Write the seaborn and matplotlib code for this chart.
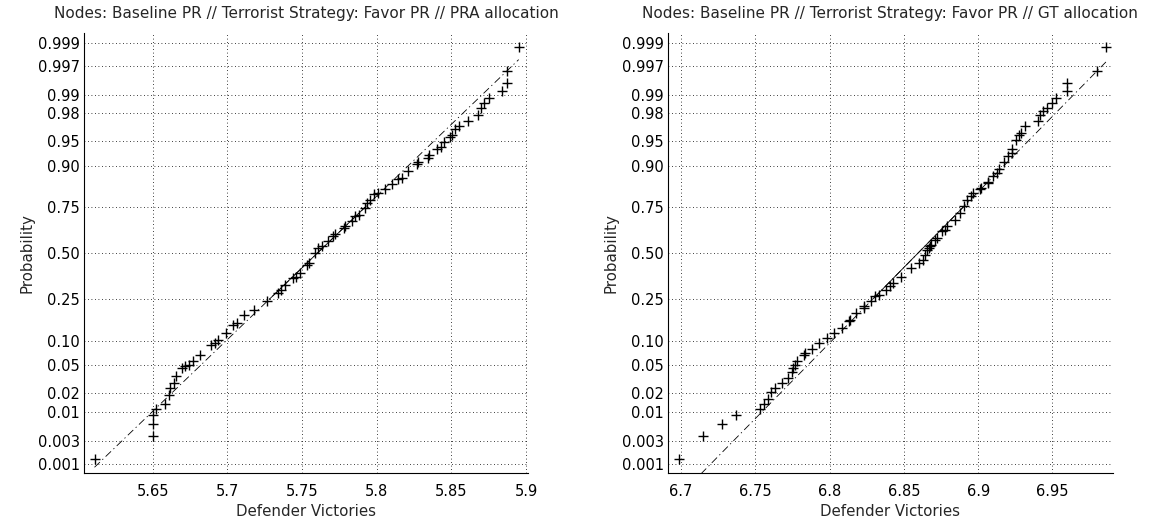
import numpy as np
import pandas as pd
import matplotlib
matplotlib.use("Agg")
import matplotlib.pyplot as plt
import seaborn as sns
from statistics import NormalDist

# Sample size of each simulation run (plotting positions use (i - 0.5) / n)
n_runs = 400

# PRA allocation: sorted defender victories at selected ranks
pra_rank = [1, 2, 3, 4, 5, 6, 8, 10, 12, 15, 19, 20, 21, 23, 28, 36, 38, 41,
            49, 59, 62, 74, 82, 97, 112, 119, 129, 144, 147, 155, 174, 178,
            201, 213, 217, 228, 240, 244, 259, 262, 273, 283, 286, 299, 309,
            314, 323, 325, 331, 338, 345, 347, 355, 362, 364, 368, 371, 375,
            377, 380, 383, 384, 387, 388, 390, 392, 394, 395, 396, 397, 398,
            399, 400]
pra_value = [5.611, 5.650, 5.650, 5.650, 5.652, 5.658, 5.6606, 5.6618, 5.6642,
             5.6655, 5.6693, 5.6717, 5.6742, 5.6767, 5.6816, 5.6891, 5.6915,
             5.694, 5.699, 5.7039, 5.7064, 5.7113, 5.7175, 5.7263, 5.7337,
             5.7362, 5.7386, 5.7436, 5.7461, 5.7485, 5.7535, 5.7545, 5.7585,
             5.7609, 5.7634, 5.7671, 5.7708, 5.7721, 5.7783, 5.779, 5.7833,
             5.7857, 5.7882, 5.7919, 5.7932, 5.7956, 5.7981, 5.8006, 5.8055,
             5.8105, 5.8142, 5.8167, 5.821, 5.827, 5.8278, 5.8341, 5.8352,
             5.8402, 5.8427, 5.8452, 5.849, 5.8502, 5.8526, 5.855, 5.8613,
             5.8675, 5.870, 5.872, 5.875, 5.884, 5.887, 5.887, 5.895]

# GT allocation: sorted defender victories at selected ranks
gt_rank = [1, 2, 3, 4, 5, 6, 7, 9, 10, 12, 14, 17, 19, 21, 23, 28, 29, 33, 38,
           43, 49, 55, 64, 66, 77, 85, 88, 97, 106, 109, 119, 126, 133, 147,
           166, 178, 186, 197, 209, 213, 217, 221, 232, 236, 251, 255, 262,
           276, 290, 303, 314, 320, 325, 331, 333, 340, 342, 349, 353, 357,
           364, 370, 372, 375, 381, 384, 385, 388, 390, 392, 393, 394, 395,
           396, 397, 398, 399, 400]
gt_value = [6.6989, 6.7147, 6.7276, 6.7371, 6.7533, 6.7558, 6.7583, 6.7607,
            6.7632, 6.7682, 6.772, 6.7745, 6.7757, 6.777, 6.7782, 6.7831,
            6.7835, 6.7881, 6.7931, 6.7981, 6.8031, 6.8081, 6.8131, 6.8135,
            6.8181, 6.823, 6.8235, 6.828, 6.8305, 6.833, 6.838, 6.8405, 6.843,
            6.8479, 6.8548, 6.8604, 6.8629, 6.8641, 6.8655, 6.867, 6.8679,
            6.8685, 6.871, 6.872, 6.8754, 6.8779, 6.8791, 6.8841, 6.8878,
            6.8903, 6.8928, 6.8953, 6.8965, 6.9015, 6.902, 6.9065, 6.9068,
            6.9102, 6.9127, 6.914, 6.9177, 6.9202, 6.9227, 6.923, 6.9252,
            6.9277, 6.9289, 6.9314, 6.940, 6.9414, 6.9438, 6.9463, 6.950,
            6.9526, 6.9596, 6.9596, 6.980, 6.986]

prob_ticks = [0.001, 0.003, 0.01, 0.02, 0.05, 0.10, 0.25, 0.50, 0.75, 0.90,
              0.95, 0.98, 0.99, 0.997, 0.999]
prob_labels = ["0.001", "0.003", "0.01", "0.02", "0.05", "0.10", "0.25",
               "0.50", "0.75", "0.90", "0.95", "0.98", "0.99", "0.997", "0.999"]

pra_xticks = [5.65, 5.7, 5.75, 5.8, 5.85, 5.9]
gt_xticks = [6.7, 6.75, 6.8, 6.85, 6.9, 6.95]

titles = ["Nodes: Baseline PR // Terrorist Strategy: Favor PR // PRA allocation",
          "Nodes: Baseline PR // Terrorist Strategy: Favor PR // GT allocation"]

sns.set_style("white")
plt.rcParams["font.family"] = ["DejaVu Sans"]

nd = NormalDist()
z_lim = -nd.inv_cdf(0.25 / n_runs)


def norm_probplot(ax, ranks, values, xlim, xticks, title):
    ranks = np.asarray(ranks, dtype=float)
    values = np.asarray(values, dtype=float)
    probs = (ranks - 0.5) / n_runs
    z = np.array([nd.inv_cdf(p) for p in probs])
    df = pd.DataFrame({"value": values, "z": z})

    # Reference line through the first and third quartiles
    q1, q3 = np.interp([0.25, 0.75], probs, values)
    z1, z3 = nd.inv_cdf(0.25), nd.inv_cdf(0.75)
    slope = (z3 - z1) / (q3 - q1)
    x_ends = np.array([values.min(), values.max()])
    z_ends = z1 + slope * (x_ends - q1)
    ax.plot(x_ends, z_ends, color="black", lw=0.6,
            linestyle=(0, (9, 4, 1.5, 4)), zorder=2)
    ax.plot([q1, q3], [z1, z3], color="black", lw=0.6, zorder=2)

    sns.scatterplot(data=df, x="value", y="z", ax=ax, marker="+", s=45,
                    color="black", linewidth=1.0, zorder=3, legend=False)

    ax.set_xlim(*xlim)
    ax.set_ylim(-z_lim, z_lim)
    ax.set_yticks([nd.inv_cdf(p) for p in prob_ticks])
    ax.set_yticklabels(prob_labels)
    ax.set_xticks(xticks)
    ax.set_xticklabels([f"{t:g}" for t in xticks])
    ax.grid(True, color="black", linestyle=(0, (1, 3.2)), lw=0.6)
    ax.tick_params(direction="in", length=3, width=0.6, labelsize=10.5,
                   colors="black")
    ax.tick_params(axis="x", pad=7.5)
    ax.tick_params(axis="y", pad=3)
    for side in ("top", "right"):
        ax.spines[side].set_visible(False)
    for side in ("left", "bottom"):
        ax.spines[side].set_color("black")
        ax.spines[side].set_linewidth(0.8)
    ax.set_xlabel("Defender Victories", fontsize=10.8, labelpad=3.5)
    ax.set_ylabel("Probability", fontsize=10.8, labelpad=2)
    ax.set_title(title, fontsize=11, pad=11)


fig = plt.figure(figsize=(11.53, 5.27), dpi=100)
ax1 = fig.add_axes([0.0729, 0.1019, 0.3851, 0.8349])
ax2 = fig.add_axes([0.5794, 0.1019, 0.3857, 0.8349])

norm_probplot(ax1, pra_rank, pra_value, (5.604, 5.9013), pra_xticks, titles[0])
norm_probplot(ax2, gt_rank, gt_value, (6.6913, 6.9906), gt_xticks, titles[1])

fig.savefig("out.png", dpi=100)
